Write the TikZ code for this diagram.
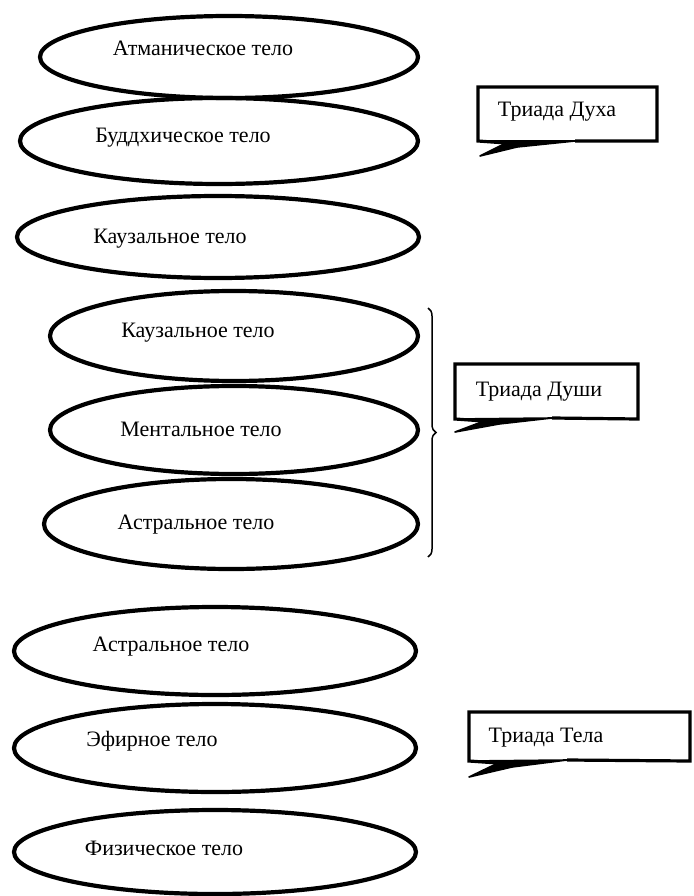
\documentclass[tikz,border=0pt]{standalone}
\usepackage{fontspec}
\setmainfont{Liberation Serif}
\usetikzlibrary{shapes.geometric,decorations.pathreplacing}
\tikzset{
  body/.style={ellipse,draw=black,line width=4.2pt,inner sep=0pt},
  lbl/.style={anchor=base,font=\fontsize{22}{24}\selectfont,inner sep=0pt},
  calloutline/.style={draw=black,line width=3.2pt,line join=miter},
  tailfill/.style={draw=black,fill=black,line width=1.6pt,line join=round},
  bracket/.style={draw=black,line width=1.5pt,decorate,decoration={brace,amplitude=8pt}}
}
\newcommand{\bodyat}[6]{%
  \node[body,minimum width=#3pt,minimum height=#4pt] (#1) at (#2) {};
  \node[lbl] (#1t) at (#5) {#6};}
\begin{document}
\begin{tikzpicture}[x=1pt,y=-1pt]
\useasboundingbox (0,0) rectangle (693,896);
\bodyat{e1}{229,57}{378}{82}{203,56}{Атманическое тело}
\bodyat{e2}{219,141}{398}{86}{183,143}{Буддхическое тело}
\bodyat{e3}{218,237}{402}{82}{170,243}{Каузальное тело}
\bodyat{e4}{234,336}{368}{90}{198,337}{Каузальное тело}
\bodyat{e5}{234,430}{368}{88}{201,436}{Ментальное тело}
\bodyat{e6}{231,524}{374}{90}{196,529}{Астральное тело}
\bodyat{e7}{215,651}{402}{88}{171,651}{Астральное тело}
\bodyat{e8}{215,748}{402}{88}{152,746}{Эфирное тело}
\bodyat{e9}{215,852}{402}{84}{164,855}{Физическое тело}
% brace
\coordinate (brtop) at (428,308);
\coordinate (brbot) at (428,557);
\draw[bracket] (brtop) -- (brbot);
% callout 1
\coordinate (c1nw) at (478,87);
\coordinate (c1ne) at (657,87);
\coordinate (c1se) at (657,141);
\coordinate (c1sw) at (478,141);
\coordinate (c1a) at (506,143);
\coordinate (c1tip) at (480,156);
\coordinate (c1b) at (517,147);
\coordinate (c1c) at (575,141);
\draw[tailfill] (c1sw) -- (c1a) -- (c1tip) -- (c1b) -- (c1c) -- cycle;
\draw[calloutline] (c1c) -- (c1se) -- (c1ne) -- (c1nw) -- (c1sw) -- (c1a);
\node[lbl] (c1t) at (557,117) {Триада Духа};
% callout 2
\coordinate (c2nw) at (455,364);
\coordinate (c2ne) at (638,364);
\coordinate (c2se) at (638,419);
\coordinate (c2sw) at (455,419);
\coordinate (c2a) at (484,421);
\coordinate (c2tip) at (455,432);
\coordinate (c2b) at (499,424);
\coordinate (c2c) at (552,418);
\draw[tailfill] (c2sw) -- (c2a) -- (c2tip) -- (c2b) -- (c2c) -- cycle;
\draw[calloutline] (c2c) -- (c2se) -- (c2ne) -- (c2nw) -- (c2sw) -- (c2a);
\node[lbl] (c2t) at (539,396) {Триада Души};
% callout 3
\coordinate (c3nw) at (469,712);
\coordinate (c3ne) at (690,712);
\coordinate (c3se) at (690,761);
\coordinate (c3sw) at (469,761);
\coordinate (c3a) at (498,763);
\coordinate (c3tip) at (469,777);
\coordinate (c3b) at (512,767);
\coordinate (c3c) at (567,760);
\draw[tailfill] (c3sw) -- (c3a) -- (c3tip) -- (c3b) -- (c3c) -- cycle;
\draw[calloutline] (c3c) -- (c3se) -- (c3ne) -- (c3nw) -- (c3sw) -- (c3a);
\node[lbl] (c3t) at (546,742) {Триада Тела};
\end{tikzpicture}
\end{document}
